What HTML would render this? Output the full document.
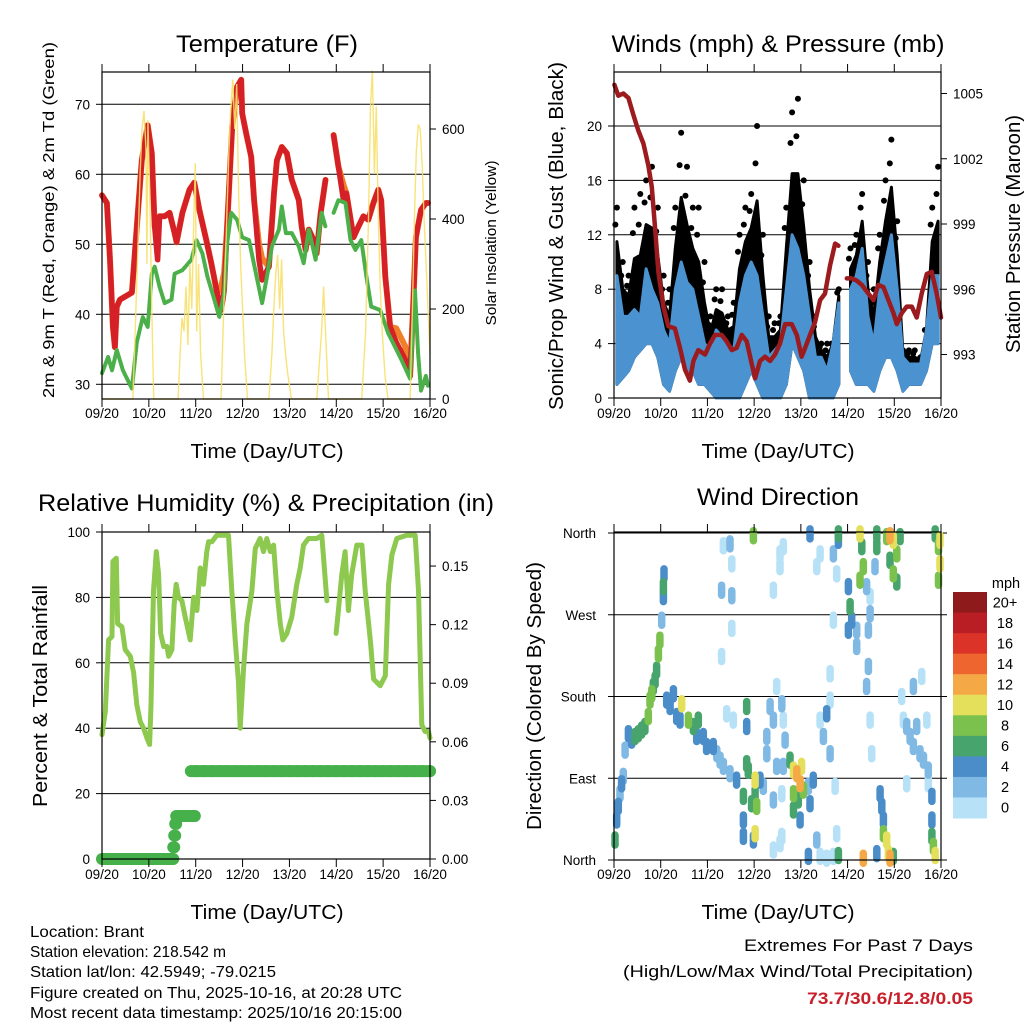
<!DOCTYPE html>
<html><head><meta charset="utf-8"><style>
html,body{margin:0;padding:0;background:#fff;}
svg{display:block;font-family:"Liberation Sans",sans-serif;}
</style></head><body>
<svg id="chart" width="1024" height="1024" viewBox="0 0 1024 1024" xmlns="http://www.w3.org/2000/svg">
<rect x="0" y="0" width="1024" height="1024" fill="#fff"/>
<g id="g-temp"></g>
<g id="g-wind"></g>
<g id="g-rh"></g>
<g id="g-dir"></g>
<text x="267" y="52" font-size="24" text-anchor="middle" textLength="182" lengthAdjust="spacingAndGlyphs">Temperature (F)</text>
<text x="778" y="52" font-size="24" text-anchor="middle" textLength="333" lengthAdjust="spacingAndGlyphs">Winds (mph) &amp; Pressure (mb)</text>
<text x="266" y="511" font-size="24" text-anchor="middle" textLength="456" lengthAdjust="spacingAndGlyphs">Relative Humidity (%) &amp; Precipitation (in)</text>
<text x="778" y="505" font-size="24" text-anchor="middle" textLength="162" lengthAdjust="spacingAndGlyphs">Wind Direction</text>
<text x="267" y="458" font-size="20" text-anchor="middle" textLength="153" lengthAdjust="spacingAndGlyphs">Time (Day/UTC)</text>
<text x="778" y="458" font-size="20" text-anchor="middle" textLength="153" lengthAdjust="spacingAndGlyphs">Time (Day/UTC)</text>
<text x="267" y="919" font-size="20" text-anchor="middle" textLength="153" lengthAdjust="spacingAndGlyphs">Time (Day/UTC)</text>
<text x="778" y="919" font-size="20" text-anchor="middle" textLength="153" lengthAdjust="spacingAndGlyphs">Time (Day/UTC)</text>
<text transform="translate(54,220) rotate(-90)" font-size="16" text-anchor="middle" textLength="356" lengthAdjust="spacingAndGlyphs">2m &amp; 9m T (Red, Orange) &amp; 2m Td (Green)</text>
<text transform="translate(496,243) rotate(-90)" font-size="15" text-anchor="middle" textLength="165" lengthAdjust="spacingAndGlyphs">Solar Insolation (Yellow)</text>
<text transform="translate(563,236) rotate(-90)" font-size="20" text-anchor="middle" textLength="348" lengthAdjust="spacingAndGlyphs">Sonic/Prop Wind &amp; Gust (Blue, Black)</text>
<text transform="translate(1020,234) rotate(-90)" font-size="20" text-anchor="middle" textLength="238" lengthAdjust="spacingAndGlyphs">Station Pressure (Maroon)</text>
<text transform="translate(47,696) rotate(-90)" font-size="20" text-anchor="middle" textLength="222" lengthAdjust="spacingAndGlyphs">Percent &amp; Total Rainfall</text>
<text transform="translate(541,696) rotate(-90)" font-size="20" text-anchor="middle" textLength="268" lengthAdjust="spacingAndGlyphs">Direction (Colored By Speed)</text>
<g font-size="16">
<text x="30" y="937" textLength="114" lengthAdjust="spacingAndGlyphs">Location: Brant</text>
<text x="30" y="957" textLength="196" lengthAdjust="spacingAndGlyphs">Station elevation: 218.542 m</text>
<text x="30" y="977" textLength="246" lengthAdjust="spacingAndGlyphs">Station lat/lon: 42.5949; -79.0215</text>
<text x="30" y="998" textLength="372" lengthAdjust="spacingAndGlyphs">Figure created on Thu, 2025-10-16, at 20:28 UTC</text>
<text x="30" y="1018" textLength="372" lengthAdjust="spacingAndGlyphs">Most recent data timestamp: 2025/10/16 20:15:00</text>
</g>
<text x="973" y="951" font-size="17" text-anchor="end" textLength="229" lengthAdjust="spacingAndGlyphs">Extremes For Past 7 Days</text>
<text x="973" y="977" font-size="17" text-anchor="end" textLength="350" lengthAdjust="spacingAndGlyphs">(High/Low/Max Wind/Total Precipitation)</text>
<text x="973" y="1004" font-size="17" font-weight="bold" fill="#c8202a" text-anchor="end" textLength="166" lengthAdjust="spacingAndGlyphs">73.7/30.6/12.8/0.05</text>
</svg>
<script>
// ---- shared axis data ----
var dayLabels = ["09/20","10/20","11/20","12/20","13/20","14/20","15/20","16/20"];
// ---- temperature data (hours since 09/20) ----
var tempT = [0,2.5,4.1,5.6,6.6,7.6,9.2,15.3,17.8,20.4,23.4,25.5,27,28.5,29.5,32.1,34.6,37.2,38.2,41.2,44.8,47.3,49.9,53.4,56,59,61.1,62.6,64.1,66.7,69.2,71.3,71.8,73.8,76.4,77.9,80.4,82,85.5,88.1,89.6,92.1,94.7,97.2,100.8,102.3,104.3,105.9,108.4,109.9,112,114.5,116,118.6,121.1,123.7,125.2,128.8,131.3,133.9,136.4,139,141.5,143,145.1,147.6,150.7,155.2,157.8,159.3,160.8,163.4,165.9,167];
var temp2m = [57,55.9,47.8,38.2,35.3,41.1,42.1,43.1,52.5,62,67,63,52.5,47.8,54,54,54.5,51.6,50.3,54.5,57.8,58.8,54.9,50.6,47.3,43,40.6,43.4,52.5,66.8,72.5,73.5,68.7,65.9,62.5,56.3,47.8,44.9,46.8,57.3,62,63.9,63,59.2,56.3,52.5,49.2,52.1,50.6,48.7,54.5,59.2,null,65.6,61.1,56.3,57.3,51,52.5,54,53.5,55.9,57.8,56.3,45.4,38.2,36,33.6,31.2,40.6,51,54.9,55.9,55.9];
var temp9m = [57,55.9,47.8,38.2,35.3,41.1,42.1,43.1,52.5,62,67,63,52.5,52,54,54,54.5,51.6,50.3,54.5,57.8,58.8,54.9,50.6,47.3,43,44,46,52.5,66.8,72.5,73.5,68.7,65.9,62.5,56.3,50,48,46.8,57.3,62,63.9,63,59.2,56.3,52.5,49.2,52.1,50.6,48.7,54.5,59.2,null,65.6,61.1,58.5,57.3,51,52.5,54,53.5,55.9,57.8,56.3,45.4,38.2,38,35.5,31.2,40.6,51,54.9,55.9,55.9];
var dewT = [0,3.1,5.1,7.6,10.7,15.3,17.8,20.9,23.4,25.5,27,29.5,32.1,35.6,37.2,41.2,45.8,48.4,51.4,54,57.5,60.1,62.6,64.1,66.2,69.2,71.8,75.3,78.9,82,84.5,87,90.6,92.1,94.2,97.2,100.8,103.3,105.9,109.4,112.5,114.5,116,118.6,121.1,124.7,127.3,129.8,132.8,135.4,137.9,142.5,146.6,150.2,153.2,157.8,159.3,160.3,161.9,163.4,165.9,167];
var dewpt = [31.6,33.9,32,34.9,32,29.4,36,39.6,38.2,45.8,46.8,43.9,41.6,42.1,45.8,46.3,47.8,50.6,48.7,45.4,42.1,39.6,43,50.1,54.5,53.5,51,50.6,45.8,41.6,45.4,49.7,52.1,55.4,51.6,51.6,49.7,47.3,52.1,47.8,54.5,52.5,null,54.5,56.3,55.9,50.6,49.2,50.6,45.4,41.1,40.6,37.3,35.3,33.6,30.8,38.2,43.4,34.4,29.1,31.2,29.8];
var solarT = [0,15.8,17,18.5,19.5,20.5,21.5,22.5,23,23.5,24.5,25.5,26.5,39,40,41,42,43,44,45,46,47,47.8,48.5,49.5,50.5,52,61,62,63.5,65,66,67,68,69,70,71,72,73,74.5,85.5,87,88,89,90,91,92,93,94,95,97,110,111,112.5,113.5,114.5,116,133,135,136.5,137.5,138.5,139.5,140.5,141.5,142.5,143.5,145,146.5,157.8,159,160,161,162,163,164,165,166,167,168];
var solarV = [0,0,150,350,500,600,640,560,300,620,450,200,0,0,100,180,150,250,120,300,200,400,524,150,300,100,0,0,150,350,550,650,710,600,700,450,300,200,100,0,0,100,200,280,320,200,310,150,100,60,0,0,60,150,250,150,0,0,150,400,650,730,500,650,400,250,150,50,0,0,200,400,550,610,600,520,400,300,200,100];
var tempTicks = [30,40,50,60,70];
var solarTicks = [0,200,400,600];
// ---- wind / pressure data ----
var presT = [0.2,2.2,4.8,7.4,10,12.5,15.1,17.6,19.4,21.1,22.8,25.4,27.9,31.3,33.9,36.5,39,40.8,43.3,46.8,49.3,51.9,55.3,57.9,60.5,63,65.6,68.2,70.7,72.5,75,77.6,80.2,82.7,85.3,87.9,91.3,93.9,96.4,98.2,100.7,103.3,105.9,108.4,111,113.6,115.3,117,119.6,122.1,124.7,127.3,130.7,133.3,135.8,138.4,141,143.6,145.3,147.8,150.4,153,155.5,158.1,160.7,163.2,165.8,168];
var presV = [1005.4,1004.9,1005,1004.8,1004,1003.3,1002.7,1001.7,1000.7,998.8,996.8,995.2,994.3,994.2,993.3,992.3,991.8,992.7,993.2,993,993.5,993.9,993.9,993.6,993.2,993.3,993.9,993.6,992.6,991.9,992.7,992.9,992.7,993,993.5,994.4,994.4,993.9,992.9,993.3,993.9,994.5,995.5,995.8,997.1,998.1,998,null,996.5,996.5,996.4,996.2,995.8,995.5,996.2,996.1,995.5,994.9,994.4,994.9,995.2,995.2,994.7,995.8,996.7,996.8,995.8,994.7];
var windT = [0,3,6,9,12,15,18,21,24,27,30,33,36,39,42,45,48,51,54,57,60,63,66,69,72,75,78,81,84,87,90,93,96,99,102,105,108,111,114,117,120,123,126,129,132,135,138,141,144,147,150,153,156,159,162,165];
var windLow = [1,1.5,2,3,3.5,4,4,3,1,0.5,2,3,2,2,1,1,0.5,0,0,0,0,0,1,2,1,0,0,0,0,1,4,3,2,0,0,0,0,0,1,null,2,1,1,1,0.5,2,3,3,2,0.5,1,1,1,2,4,4];
var windHigh = [9,6,6,6.5,6,9.5,8,7,5,4,8,10,8.5,8,6,4,3.5,5,4.5,4,3.5,7,9,10,9,6,3,3.5,4,8,12,11,9,6,3,3,2,4,7,null,8,9,11,6,4,8,10,12,8,3,2.5,2.5,2.5,5,9,9];
var gustMax = [14,10,9,14,15,16,17,14,9,8,14,19.5,17,14,14,10,6,8,8,6,7,12,14,15,20,12,6,5.5,6,14,21,22,16,10,6,4,4,4,8,null,11,12,15,10,8,12,16,19,13,3.5,3.5,3.5,3,5,14,17];
var windTicks = [0,4,8,12,16,20];
var presTicks = [993,996,999,1002,1005];
// ---- humidity / rain data ----
var rhT = [0,1.7,3.4,5.1,5.6,7.3,8,10.2,11.9,14.5,16.2,17.9,19.6,21.3,23,24.4,25.1,26.4,27.8,29,30,31.6,33.3,34.1,35.8,37,38,39.2,40.9,42.6,45.2,46.9,48.6,50.3,52,53.7,54.6,56.3,58.8,64.8,66.5,68.2,69.9,70.8,72.5,74.2,76.8,78.5,81,82.7,84.4,86.2,87.9,89.6,91.3,92.6,94.7,97.2,99.8,101.5,103.2,105.7,110,112.6,115.2,117,119.9,121.1,122.8,124.5,126.2,127.9,130.5,133.1,134.8,137.4,139.1,142.5,145.1,146.8,148.5,151,156.1,160.4,162.1,163.8,165.5,167.2,168];
var rhV = [38,45,67,68,91,92,72,71,64,62,57,47,42,40,37,35,47,82,94,87,69,65,65,62,64,78,84,80,79,74,67,80,76,89,84,94,97,97,99,99,82,67,54,40,58,72,82,95,98,94,98,94,96,82,72,67,69,74,84,89,96,98,98,99,79,null,69,76,87,94,76,87,96,96,82,67,55,53,56,84,93,98,99,99,82,41,39,39,37];
var rainT = [0,2,4,6,8,10,12,14,16,18,20,22,24,26,28,30,32,34,36,36.5,37,37.5,38,40,42,44,46,47.5,45.5,48,52,56,60,64,68,72,76,80,84,88,92,96,100,104,108,112,116,120,124,128,132,136,140,144,148,152,156,160,164,168];
var rainV = [0,0,0,0,0,0,0,0,0,0,0,0,0,0,0,0,0,0,0,0.006,0.012,0.018,0.022,0.022,0.022,0.022,0.022,0.022,0.045,0.045,0.045,0.045,0.045,0.045,0.045,0.045,0.045,0.045,0.045,0.045,0.045,0.045,0.045,0.045,0.045,0.045,0.045,0.045,0.045,0.045,0.045,0.045,0.045,0.045,0.045,0.045,0.045,0.045,0.045,0.045];
var rhTicks = [0,20,40,60,80,100];
var rainTicks = [0,0.03,0.06,0.09,0.12,0.15];
// ---- wind direction data ----
var dirT = [0.5,1.4,2.2,3.1,3.9,4.8,5.7,7.4,9.1,10.8,12.5,14.2,15.9,17.6,18.5,19.4,20.2,21.1,21.9,22.8,23.6,24.5,25.4,25.4,25.7,27.1,28.8,30.5,32.2,34.8,33.9,38.2,40.8,43.3,42.5,45.9,47.6,51,52.8,54.5,56.2,59.6,63,57.9,61.3,55.3,60.5,56.2,59.6,60.5,55.3,60.5,68.2,68.2,68.2,69,66.5,70.7,72.5,72.5,73.3,72.5,66.5,66.5,71.6,71.6,75,76.7,78.5,80.2,81.9,78.5,83.6,85.3,87,85.3,81.9,83.6,81.9,85.3,81.9,86.2,87,87.9,87,86.2,86.2,90.4,92.2,93.9,95.6,92.2,94.7,92.2,95.6,96.4,97.3,99.9,100.7,102.4,104.2,105.9,109.3,112.7,115.3,99.9,100.7,104.2,105.9,105.9,107.6,111,109.3,111,111,112.7,114.4,112.7,115.3,115.3,113.6,114.4,120.4,121.3,122.1,124.7,124.7,120.4,126.4,127.3,128.1,126.4,129.8,131.6,131.6,130.7,130.7,129.8,131.6,132.4,135,135,134.1,136.7,137.6,138.4,138.4,140.1,141,141.8,143.5,135,128.1,140.1,141.8,143.5,145.3,141.8,143.5,145.3,147,147.8,148.7,150.4,152.1,153.8,155.5,157.2,159,160.7,161.5,153.8,158.1,150.4,161.5,163.3,163.3,163.3,164.1,165,165,166.7,167.5,166.7,167.5];
var dirDeg = [22,44,59,73,84,92,121,139,132,136,139,143,147,158,176,183,191,198,209,227,242,264,290,301,315,176,169,183,158,172,154,154,147,154,136,136,125,125,117,110,103,95,88,161,154,224,255,346,348,326,297,291,169,147,106,99,70,62,88,73,59,29,44,26,22,357,88,81,136,169,154,117,191,337,345,323,297,103,66,18,11,172,154,132,103,73,26,110,99,95,84,73,66,55,44,103,77,81,62,88,22,4,2,4,5,4,359,323,337,154,136,117,161,176,205,264,315,337,352,359,81,29,301,279,264,253,235,253,359,345,323,308,301,290,271,253,213,191,154,117,359,345,323,73,59,44,29,22,7,2,4,7,2,356,357,352,337,330,315,306,356,180,154,147,136,125,147,117,110,154,99,191,202,84,84,70,44,26,15,5,359,345,326,308,352];
var dirSpd = [6,4,4,2,4,2,2,4,4,6,6,6,6,8,8,8,6,6,6,8,8,2,4,6,4,4,4,4,4,10,4,8,6,6,4,4,4,4,2,2,2,2,4,0,0,0,0,0,2,0,2,2,6,4,6,6,6,6,10,6,8,10,4,4,4,8,4,2,2,2,2,2,0,0,0,0,0,2,2,0,0,2,0,2,2,0,0,6,10,12,12,8,6,6,4,10,8,2,4,4,2,0,0,0,6,4,4,0,0,0,2,2,4,0,0,0,0,2,4,6,0,0,4,6,4,2,2,4,10,6,8,8,2,0,2,2,2,2,0,0,6,6,2,4,4,4,8,10,10,12,6,4,12,8,12,10,8,6,8,6,6,0,0,2,2,2,2,2,2,0,2,2,0,0,0,4,4,6,8,10,6,8,10,8,10];
var dirTicks = ["North","East","South","West","North"];
var speedBins = ["0","2","4","6","8","10","12","14","16","18","20+"];
var speedColors = ["#b6e1f6","#7fb9e4","#4a8dc8","#47a46c","#7bc14d","#e4e05c","#f5a946","#ee652f","#db3328","#ba1e25","#8e1a1b"];

var NS = "http://www.w3.org/2000/svg";
function mk(parent, tag, attrs){ var e=document.createElementNS(NS,tag); for(var k in attrs) e.setAttribute(k,attrs[k]); parent.appendChild(e); return e; }
function linePath(ts, vs, fx, fy){ var d="", pen=false; for(var i=0;i<ts.length;i++){ if(vs[i]===null){pen=false;continue;} d+=(pen?"L":"M")+fx(ts[i]).toFixed(1)+","+fy(vs[i]).toFixed(1); pen=true; } return d; }

function frame(g, x0, x1, y0, y1, name, xlabY){
  var b = mk(g,"rect",{x:x0,y:y0,width:x1-x0,height:y1-y0,fill:"none",stroke:"#000","stroke-width":1.2});
  
  
  for(var i=0;i<dayLabels.length;i++){
    var x = x0 + (x1-x0)*i/7;
    var tk = mk(g,"line",{x1:x,x2:x,y1:y1,y2:y1+8,stroke:"#000","stroke-width":1});
    
    
    var tk2 = mk(g,"line",{x1:x,x2:x,y1:y0,y2:y0-8,stroke:"#000","stroke-width":1});
    
    
    var t = mk(g,"text",{x:x,y:xlabY,"font-size":13.5,"text-anchor":"middle"});
    t.textContent = dayLabels[i];
    
    
  }
}
function yTicks(g, ticks, fy, x0, x1, side, labels, grid, fmt){
  for(var i=0;i<ticks.length;i++){
    var y = fy(ticks[i]);
    if(grid){
      var gl = mk(g,"line",{x1:x0,x2:x1,y1:y,y2:y,stroke:"#000","stroke-width":1});
      
      
    }
    var xe = side<0 ? x0 : x1;
    var tk = mk(g,"line",{x1:xe,x2:xe+side*6,y1:y,y2:y,stroke:"#000","stroke-width":1});
    
    
    var t = mk(g,"text",{x:xe+side*12,y:y+5,"font-size":13.5,"text-anchor":side<0?"end":"start"});
    t.textContent = labels ? labels[i] : (fmt?fmt(ticks[i]):ticks[i]);
    
    
  }
}

// ===== Temperature panel =====
(function(){
  var g = document.getElementById("g-temp");
  var X0=102,X1=430;
  var fx=function(h){return X0+h*(X1-X0)/168;};
  var fy=function(v){return 399-(v-27.9)*7.0;};
  var fs=function(v){return 399-v*0.45;};
  yTicks(g,tempTicks,fy,X0,X1,-1,null,true);
  yTicks(g,solarTicks,fs,X0,X1,1,null,false);
  var p1=mk(g,"path",{d:linePath(tempT,temp9m,fx,fy),fill:"none",stroke:"#f07f2a","stroke-width":6,"stroke-linejoin":"round","stroke-linecap":"round"});
  
  
  var p2=mk(g,"path",{d:linePath(tempT,temp2m,fx,fy),fill:"none",stroke:"#d42026","stroke-width":5.5,"stroke-linejoin":"round","stroke-linecap":"round"});
  
  
  var p3=mk(g,"path",{d:linePath(dewT,dewpt,fx,fy),fill:"none",stroke:"#4cb04a","stroke-width":4,"stroke-linejoin":"round","stroke-linecap":"round","stroke-dasharray":"3 1.2"});
  
  
  var p4=mk(g,"path",{d:linePath(solarT,solarV,fx,fs),fill:"none",stroke:"#f7e06a","stroke-width":1.4,"stroke-opacity":0.9});
  
  
  frame(g,X0,X1,72,399,"temp",418);
})();

// ===== Wind panel =====
(function(){
  var g = document.getElementById("g-wind");
  var X0=614,X1=941;
  var fx=function(h){return X0+h*(X1-X0)/168;};
  var fy=function(v){return 398-v*13.6;};
  var fp=function(p){return 398-(p-991)*21.75;};
  yTicks(g,windTicks,fy,X0,X1,-1,null,true);
  yTicks(g,presTicks,fp,X0,X1,1,null,false);
  var segs=[[]];
  for(var i=0;i<windT.length;i++){ if(windLow[i]===null){segs.push([]);continue;} segs[segs.length-1].push(i); }
  segs.forEach(function(s){
    if(s.length<2) return;
    var top="",bot="";
    s.forEach(function(i){ var gt = windHigh[i]+(gustMax[i]-windHigh[i])*0.5; top+=(top?"L":"M")+fx(windT[i]+1.5).toFixed(1)+","+fy(gt).toFixed(1); });
    for(var k=s.length-1;k>=0;k--){ var i=s[k]; bot+="L"+fx(windT[i]+1.5).toFixed(1)+","+fy(windLow[i]).toFixed(1); }
    var pb=mk(g,"path",{d:top+bot+"Z",fill:"#000",stroke:"#000","stroke-width":3,"stroke-linejoin":"round"});
    
    
  });
  for(var i=0;i<windT.length;i++){
    if(gustMax[i]===null) continue;
    var c1=mk(g,"circle",{cx:fx(windT[i]+1.5),cy:fy(gustMax[i]),r:3,fill:"#000"});
    
    
    var mid = windHigh[i]+(gustMax[i]-windHigh[i])*0.75;
    var c2=mk(g,"circle",{cx:fx(windT[i]+0.7),cy:fy(mid),r:3,fill:"#000"});
    
    
  }
  segs.forEach(function(s){
    if(s.length<2) return;
    var top="",bot="";
    s.forEach(function(i){ top+=(top?"L":"M")+fx(windT[i]+1.5).toFixed(1)+","+fy(windHigh[i]).toFixed(1); });
    for(var k=s.length-1;k>=0;k--){ var i=s[k]; bot+="L"+fx(windT[i]+1.5).toFixed(1)+","+fy(windLow[i]).toFixed(1); }
    var pw=mk(g,"path",{d:top+bot+"Z",fill:"#4b93d0",stroke:"#4b93d0","stroke-width":3,"stroke-linejoin":"round"});
    
    
  });
  var pp=mk(g,"path",{d:linePath(presT,presV,fx,fp),fill:"none",stroke:"#9b1b1e","stroke-width":4.5,"stroke-linejoin":"round","stroke-linecap":"round"});
  
  
  frame(g,X0,X1,72,398,"wind",418);
})();

// ===== RH panel =====
(function(){
  var g = document.getElementById("g-rh");
  var X0=102,X1=430;
  var fx=function(h){return X0+h*(X1-X0)/168;};
  var fy=function(v){return 859-v*3.27;};
  var fr=function(v){return 859-v*1953;};
  yTicks(g,rhTicks,fy,X0,X1,-1,null,true);
  yTicks(g,rainTicks,fr,X0,X1,1,null,false,function(v){return v.toFixed(2);});
  var pr=mk(g,"path",{d:linePath(rhT,rhV,fx,fy),fill:"none",stroke:"#8dc84f","stroke-width":5,"stroke-linejoin":"round","stroke-linecap":"round"});
  
  
  for(var i=0;i<rainT.length;i++){
    var nxt = (i+1<rainT.length && rainT[i+1]>rainT[i]) ? rainT[i+1] : rainT[i];
    var ln=mk(g,"line",{x1:fx(rainT[i]),x2:fx(nxt),y1:fr(rainV[i]),y2:fr(rainV[i]),stroke:"#46b04a","stroke-width":12,"stroke-linecap":"round"});
    
    
  }
  frame(g,X0,X1,532,859,"rh",879);
})();

// ===== Direction panel =====
(function(){
  var g = document.getElementById("g-dir");
  var X0=614,X1=941;
  var fx=function(h){return X0+h*(X1-X0)/168;};
  var fy=function(d){return 860-d*327/360;};
  var dvals=[0,90,180,270,360];
  for(var i=0;i<dvals.length;i++){
    var y=fy(dvals[i]);
    var gl=mk(g,"line",{x1:X0-6,x2:X1+6,y1:y,y2:y,stroke:"#000","stroke-width":1});
    
    
    var t=mk(g,"text",{x:X0-18,y:y+5,"font-size":13.5,"text-anchor":"end"});
    t.textContent=dirTicks[i];
    
    
  }
  function col(s){ var k=Math.min(10,Math.max(0,Math.round(s/2))); return speedColors[k]; }
  var order=[]; for(var i=0;i<dirT.length;i++) order.push(i);
  order.sort(function(a,b){return dirSpd[a]-dirSpd[b];});
  order.forEach(function(i){
    var cx=fx(dirT[i]), cy=fy(dirDeg[i]);
    var c=mk(g,"line",{x1:cx.toFixed(1),x2:cx.toFixed(1),y1:(cy-5).toFixed(1),y2:(cy+5).toFixed(1),stroke:col(dirSpd[i]),"stroke-width":7.5,"stroke-linecap":"round"});
    
    
  });
  frame(g,X0,X1,532,860,"dir",879);
  var cb=mk(g,"g",{});
  
  
  var h=(818-592)/speedBins.length;
  for(var k=0;k<speedBins.length;k++){
    var idx=speedBins.length-1-k;
    var r=mk(cb,"rect",{x:953,y:592+k*h,width:34,height:h+0.5,fill:speedColors[idx]});
    
    
    var t=mk(cb,"text",{x:1005,y:592+k*h+h/2+5,"font-size":14.5,"text-anchor":"middle"});
    t.textContent=speedBins[idx];
    
    
  }
  var mt=mk(cb,"text",{x:1006,y:588,"font-size":14.5,"text-anchor":"middle"});
  mt.textContent="mph";
  
  
})();
</script>
</body></html>
